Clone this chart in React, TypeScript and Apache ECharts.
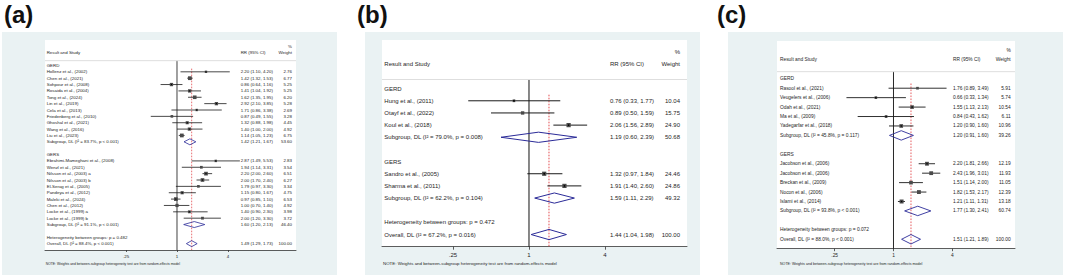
import React, { useEffect, useRef } from "react";
import * as echarts from "echarts";

// ---------------- Data ----------------
const xTickValues = [0.25, 1, 4];
const xTickLabels = [".25", "1", "4"];

const panelLabels = ["(a)", "(b)", "(c)"];
const groupNames = ["GERD", "GERS"];
const headerStudy = "Result and Study";
const headerRR = "RR (95% CI)";
const headerWeightTop = "%";
const headerWeight = "Weight";
const noteText = "NOTE: Weights and between-subgroup heterogeneity test are from random-effects model";

// Panel (a)
const aGerdStudy = [
  "Hollenz et al., (2002)", "Chen et al., (2021)", "Sohpour et al., (2008)", "Rosaida et al., (2004)",
  "Tong et al., (2024)", "Lin et al., (2019)", "Cela et al., (2013)", "Friedenberg et al., (2010)",
  "Ghoshal et al., (2021)", "Wang et al., (2016)", "Liu et al., (2023)",
];
const aGerdRR = [2.2, 1.42, 0.86, 1.41, 1.62, 2.92, 1.71, 0.87, 1.32, 1.4, 1.14];
const aGerdLow = [1.1, 1.32, 0.64, 1.04, 1.35, 2.1, 0.86, 0.49, 0.88, 1.0, 1.05];
const aGerdHigh = [4.2, 1.53, 1.16, 1.92, 1.95, 3.85, 3.38, 1.55, 1.98, 2.0, 1.23];
const aGerdWeight = [2.76, 6.77, 5.25, 5.25, 6.2, 5.28, 2.69, 3.28, 4.45, 4.92, 6.75];
const aGerdSubgroup = [1.42, 1.21, 1.67, 53.6];
const aGerdStats = "I\u00B2 = 83.7%, p < 0.001";

const aGersStudy = [
  "Ebrahimi-Mameghani et al., (2008)", "Wenzl et al., (2021)", "Nilsson et al., (2003) a",
  "Nilsson et al., (2003) b", "El-Serag et al., (2005)", "Pandeya et al., (2012)", "Maleki et al., (2024)",
  "Chen et al., (2012)", "Locke et al., (1999) a", "Locke et al., (1999) b",
];
const aGersRR = [2.87, 1.94, 2.2, 2.0, 1.79, 1.15, 0.97, 1.0, 1.4, 2.0];
const aGersLow = [1.49, 1.14, 2.0, 1.7, 0.97, 0.8, 0.85, 0.7, 0.9, 1.2];
const aGersHigh = [5.53, 3.31, 2.6, 2.4, 3.3, 1.67, 1.1, 1.4, 2.3, 3.3];
const aGersWeight = [2.83, 3.54, 6.51, 6.27, 3.34, 4.75, 6.53, 4.92, 3.98, 3.72];
const aGersSubgroup = [1.6, 1.2, 2.13, 46.4];
const aGersStats = "I\u00B2 = 91.1%, p < 0.001";
const aHetP = "0.482";
const aOverall = [1.49, 1.29, 1.73, 100.0];
const aOverallStats = "I\u00B2 = 88.4%, p < 0.001";

// Panel (b)
const bGerdStudy = ["Hung et al., (2011)", "Otayf et al., (2022)", "Koul et al., (2018)"];
const bGerdRR = [0.76, 0.89, 2.06];
const bGerdLow = [0.33, 0.5, 1.56];
const bGerdHigh = [1.77, 1.59, 2.89];
const bGerdWeight = [10.04, 15.75, 24.9];
const bGerdSubgroup = [1.19, 0.6, 2.39, 50.68];
const bGerdStats = "I\u00B2 = 79.0%, p = 0.008";

const bGersStudy = ["Sandro et al., (2005)", "Sharma et al., (2011)"];
const bGersRR = [1.32, 1.91];
const bGersLow = [0.97, 1.4];
const bGersHigh = [1.84, 2.6];
const bGersWeight = [24.46, 24.86];
const bGersSubgroup = [1.59, 1.11, 2.29, 49.32];
const bGersStats = "I\u00B2 = 62.2%, p = 0.104";
const bHetP = "0.472";
const bOverall = [1.44, 1.04, 1.98, 100.0];
const bOverallStats = "I\u00B2 = 67.2%, p = 0.016";

// Panel (c)
const cGerdStudy = [
  "Rasool et al., (2021)", "Veugelers et al., (2006)", "Odah et al., (2021)", "Ma et al., (2009)",
  "Yadegarfar et al., (2018)",
];
const cGerdRR = [1.76, 0.66, 1.55, 0.84, 1.2];
const cGerdLow = [0.89, 0.33, 1.13, 0.43, 0.9];
const cGerdHigh = [3.49, 1.34, 2.13, 1.62, 1.6];
const cGerdWeight = [5.91, 5.74, 10.54, 6.11, 10.96];
const cGerdSubgroup = [1.2, 0.91, 1.6, 39.26];
const cGerdStats = "I\u00B2 = 45.8%, p = 0.117";

const cGersStudy = [
  "Jacobson et al., (2006)", "Jacobson et al., (2006)", "Breckan et al., (2009)", "Nocon et al., (2006)",
  "Islami et al., (2014)",
];
const cGersRR = [2.2, 2.43, 1.51, 1.82, 1.21];
const cGersLow = [1.81, 1.96, 1.14, 1.53, 1.11];
const cGersHigh = [2.66, 3.01, 2.0, 2.17, 1.31];
const cGersWeight = [12.19, 11.93, 11.05, 12.39, 13.18];
const cGersSubgroup = [1.77, 1.3, 2.41, 60.74];
const cGersStats = "I\u00B2 = 93.8%, p < 0.001";
const cHetP = "0.072";
const cOverall = [1.51, 1.21, 1.89, 100.0];
const cOverallStats = "I\u00B2 = 88.0%, p < 0.001";

// ---------------- Layout / style ----------------
const FONT = "'Liberation Sans', Arial, Helvetica, sans-serif";
const TEXT = "#1e1e1e";
const DIAMOND = "#2b2b98";
const RED = "#e0383c";
const BG = "#eaf2f3";
const HEADER_LINE_ROW = -0.75;

const layouts = [
  { bg: [2, 32, 335, 243], labelPos: [4, 2], grid: [45, 40, 251, 210], xRange: [-5.18, 4.67], font: 4.4, noteFont: 3.4, pad: 1.7, notePad: 0.7, rrRight: 55.3, wRight: 4, noteDy: 14, boxK: 1.45, lw: 0.8, dotR: 0.6, diamondH: 0.47, tickLen: 2, labelMargin: 4.2 },
  { bg: [365, 32, 335, 243], labelPos: [357, 2], grid: [382, 40, 305, 206.7], xRange: [-3.87, 4.16], font: 6, noteFont: 4.4, pad: 2.3, notePad: 1, rrRight: 77, wRight: 7, noteDy: 16.6, boxK: 0.85, lw: 1, dotR: 0.8, diamondH: 0.42, tickLen: 3, labelMargin: 5 },
  { bg: [728, 32, 335, 243], labelPos: [717, 2], grid: [777, 41, 238, 207.7], xRange: [-3.96, 4.13], font: 4.85, noteFont: 3.6, pad: 3, notePad: 3, rrRight: 62, wRight: 4.3, noteDy: 15.3, boxK: 1.1, lw: 0.9, dotR: 0.7, diamondH: 0.5, tickLen: 2.5, labelMargin: 4.5 },
];

type Row = { r: number; kind: string; label: string; rr?: number; lo?: number; hi?: number; w?: number };

type Group = { name: string; study: string[]; rr: number[]; lo: number[]; hi: number[]; w: number[]; sub: number[]; stats: string };

function buildRows(groups: Group[], hetP: string, overall: number[], overallStats: string): Row[] {
  const rows: Row[] = [{ r: -2, kind: "header", label: headerStudy }];
  let r = 0;
  groups.forEach((g) => {
    rows.push({ r: r++, kind: "group", label: g.name });
    g.study.forEach((s, i) => {
      rows.push({ r: r++, kind: "study", label: s, rr: g.rr[i], lo: g.lo[i], hi: g.hi[i], w: g.w[i] });
    });
    rows.push({ r: r++, kind: "sub", label: `Subgroup, DL (${g.stats})`, rr: g.sub[0], lo: g.sub[1], hi: g.sub[2], w: g.sub[3] });
    r++;
  });
  rows.push({ r: r++, kind: "het", label: `Heterogeneity between groups: p = ${hetP}` });
  rows.push({ r: r++, kind: "overall", label: `Overall, DL (${overallStats})`, rr: overall[0], lo: overall[1], hi: overall[2], w: overall[3] });
  return rows;
}

const panels = [
  {
    rows: buildRows(
      [
        { name: groupNames[0], study: aGerdStudy, rr: aGerdRR, lo: aGerdLow, hi: aGerdHigh, w: aGerdWeight, sub: aGerdSubgroup, stats: aGerdStats },
        { name: groupNames[1], study: aGersStudy, rr: aGersRR, lo: aGersLow, hi: aGersHigh, w: aGersWeight, sub: aGersSubgroup, stats: aGersStats },
      ],
      aHetP, aOverall, aOverallStats
    ),
    overallRR: aOverall[0],
  },
  {
    rows: buildRows(
      [
        { name: groupNames[0], study: bGerdStudy, rr: bGerdRR, lo: bGerdLow, hi: bGerdHigh, w: bGerdWeight, sub: bGerdSubgroup, stats: bGerdStats },
        { name: groupNames[1], study: bGersStudy, rr: bGersRR, lo: bGersLow, hi: bGersHigh, w: bGersWeight, sub: bGersSubgroup, stats: bGersStats },
      ],
      bHetP, bOverall, bOverallStats
    ),
    overallRR: bOverall[0],
  },
  {
    rows: buildRows(
      [
        { name: groupNames[0], study: cGerdStudy, rr: cGerdRR, lo: cGerdLow, hi: cGerdHigh, w: cGerdWeight, sub: cGerdSubgroup, stats: cGerdStats },
        { name: groupNames[1], study: cGersStudy, rr: cGersRR, lo: cGersLow, hi: cGersHigh, w: cGersWeight, sub: cGersSubgroup, stats: cGersStats },
      ],
      cHetP, cOverall, cOverallStats
    ),
    overallRR: cOverall[0],
  },
];

const fmt = (v: number) => v.toFixed(2);

function mainRender(rows: Row[], L: any) {
  return (params: any, api: any) => {
    const cs = params.coordSys;
    const item = rows[params.dataIndex];
    const right = cs.x + cs.width;
    const xLabel = cs.x + L.pad;
    const xRR = right - L.rrRight;
    const xW = right - L.wRight;
    const y = api.coord([0, item.r])[1];
    const rowH = Math.abs(api.coord([0, 1])[1] - api.coord([0, 0])[1]);
    const txt = (text: string, x: number, yy: number, align: string) => ({
      type: "text",
      x,
      y: yy,
      silent: true,
      style: { text, fill: TEXT, fontSize: L.font, fontFamily: FONT, align, verticalAlign: "middle" },
    });
    const children: any[] = [];
    if (item.kind === "header") {
      const yPct = api.coord([0, item.r - 1])[1];
      const yLine = api.coord([0, HEADER_LINE_ROW])[1];
      children.push(txt(headerStudy, xLabel, y, "left"));
      children.push(txt(headerRR, xRR, y, "left"));
      children.push(txt(headerWeight, xW, y, "right"));
      children.push(txt(headerWeightTop, xW, yPct, "right"));
      children.push({ type: "line", silent: true, shape: { x1: cs.x, y1: yLine, x2: right, y2: yLine }, style: { stroke: "#dedede", lineWidth: 1 } });
      return { type: "group", children };
    }
    children.push(txt(item.label, xLabel, y, "left"));
    if (item.kind === "study") {
      const xl = api.coord([Math.log2(item.lo!), item.r])[0];
      const xh = api.coord([Math.log2(item.hi!), item.r])[0];
      const xc = api.coord([Math.log2(item.rr!), item.r])[0];
      const s = L.boxK * Math.sqrt(item.w!);
      children.push({ type: "line", silent: true, shape: { x1: xl, y1: y, x2: xh, y2: y }, style: { stroke: "#1a1a1a", lineWidth: L.lw } });
      children.push({ type: "rect", silent: true, shape: { x: xc - s / 2, y: y - s / 2, width: s, height: s }, style: { fill: "#4a4a4a" } });
      children.push({ type: "circle", silent: true, shape: { cx: xc, cy: y, r: L.dotR }, style: { fill: "#000" } });
    }
    if (item.kind === "sub" || item.kind === "overall") {
      const xl = api.coord([Math.log2(item.lo!), item.r])[0];
      const xh = api.coord([Math.log2(item.hi!), item.r])[0];
      const xc = api.coord([Math.log2(item.rr!), item.r])[0];
      const h = rowH * L.diamondH;
      children.push({
        type: "polygon",
        silent: true,
        shape: { points: [[xl, y], [xc, y - h], [xh, y], [xc, y + h]] },
        style: { fill: "none", stroke: DIAMOND, lineWidth: L.lw },
      });
    }
    if (item.rr !== undefined) {
      children.push(txt(`${fmt(item.rr)} (${fmt(item.lo!)}, ${fmt(item.hi!)})`, xRR, y, "left"));
      children.push(txt(fmt(item.w!), xW, y, "right"));
    }
    return { type: "group", children };
  };
}

function refRender(overallRR: number, L: any) {
  return (params: any, api: any) => {
    const cs = params.coordSys;
    const yBot = cs.y + cs.height;
    const yTop = api.coord([0, HEADER_LINE_ROW])[1];
    const yStart = api.coord([0, 0.5])[1];
    const x0 = api.coord([0, 0])[0];
    const xo = api.coord([Math.log2(overallRR), 0])[0];
    return {
      type: "group",
      children: [
        { type: "line", silent: true, shape: { x1: x0, y1: yTop, x2: x0, y2: yBot }, style: { stroke: "#111", lineWidth: L.lw } },
        { type: "line", silent: true, shape: { x1: xo, y1: yStart, x2: xo, y2: yBot }, style: { stroke: RED, lineWidth: L.lw * 0.9, lineDash: [1.6, 1.4] } },
      ],
    };
  };
}

function buildOption() {
  const tickLogs = xTickValues.map((v) => Math.log2(v));
  const labelFor = (v: number) => {
    const i = tickLogs.findIndex((t) => Math.abs(t - v) < 1e-6);
    return i >= 0 ? xTickLabels[i] : "";
  };
  const graphic: any[] = [];
  layouts.forEach((L, i) => {
    graphic.push({ type: "rect", z: 0, silent: true, shape: { x: L.bg[0], y: L.bg[1], width: L.bg[2], height: L.bg[3] }, style: { fill: BG } });
    graphic.push({ type: "rect", z: 0, silent: true, shape: { x: L.grid[0], y: L.grid[1], width: L.grid[2], height: L.grid[3] }, style: { fill: "#fff" } });
    graphic.push({ type: "text", z: 1, silent: true, x: L.labelPos[0], y: L.labelPos[1], style: { text: panelLabels[i], fontSize: 24, fontWeight: "bold", fontFamily: FONT, fill: "#111", verticalAlign: "top" } });
    graphic.push({
      type: "text", z: 1, silent: true,
      x: L.grid[0] + L.notePad,
      y: L.grid[1] + L.grid[3] + L.noteDy,
      style: { text: noteText, fontSize: L.noteFont, fontFamily: FONT, fill: TEXT, verticalAlign: "middle" },
    });
  });

  return {
    animation: false,
    backgroundColor: "#fff",
    graphic: { elements: graphic },
    grid: layouts.map((L) => ({ left: L.grid[0], top: L.grid[1], width: L.grid[2], height: L.grid[3], containLabel: false, show: false })),
    xAxis: layouts.map((L, i) => ({
      type: "value",
      gridIndex: i,
      min: L.xRange[0],
      max: L.xRange[1],
      axisLine: { show: true, onZero: false, lineStyle: { color: "#333", width: 0.8 } },
      axisTick: { show: true, customValues: tickLogs, length: L.tickLen, lineStyle: { color: "#333", width: 0.8 } },
      axisLabel: { show: true, customValues: tickLogs, formatter: labelFor, fontSize: L.font, fontFamily: FONT, color: TEXT, margin: L.labelMargin },
      splitLine: { show: false },
    })),
    yAxis: panels.map((p, i) => ({
      type: "value",
      gridIndex: i,
      min: -4,
      max: p.rows[p.rows.length - 1].r + 1,
      inverse: true,
      show: false,
      splitLine: { show: false },
    })),
    series: panels.flatMap((p, i) => [
      {
        type: "custom",
        xAxisIndex: i,
        yAxisIndex: i,
        z: 2,
        silent: true,
        renderItem: refRender(p.overallRR, layouts[i]),
        data: [[0, 0]],
      },
      {
        type: "custom",
        xAxisIndex: i,
        yAxisIndex: i,
        z: 3,
        silent: true,
        renderItem: mainRender(p.rows, layouts[i]),
        data: p.rows.map((row) => [0, row.r]),
      },
    ]),
  };
}

export default function App() {
  const ref = useRef<HTMLDivElement>(null);
  useEffect(() => {
    const chart = echarts.init(ref.current!, null, { renderer: "svg" });
    chart.setOption(buildOption() as any);
    return () => chart.dispose();
  }, []);
  return <div ref={ref} style={{ position: "fixed", left: 0, top: 0, width: 1065, height: 278, background: "#fff" }} />;
}
